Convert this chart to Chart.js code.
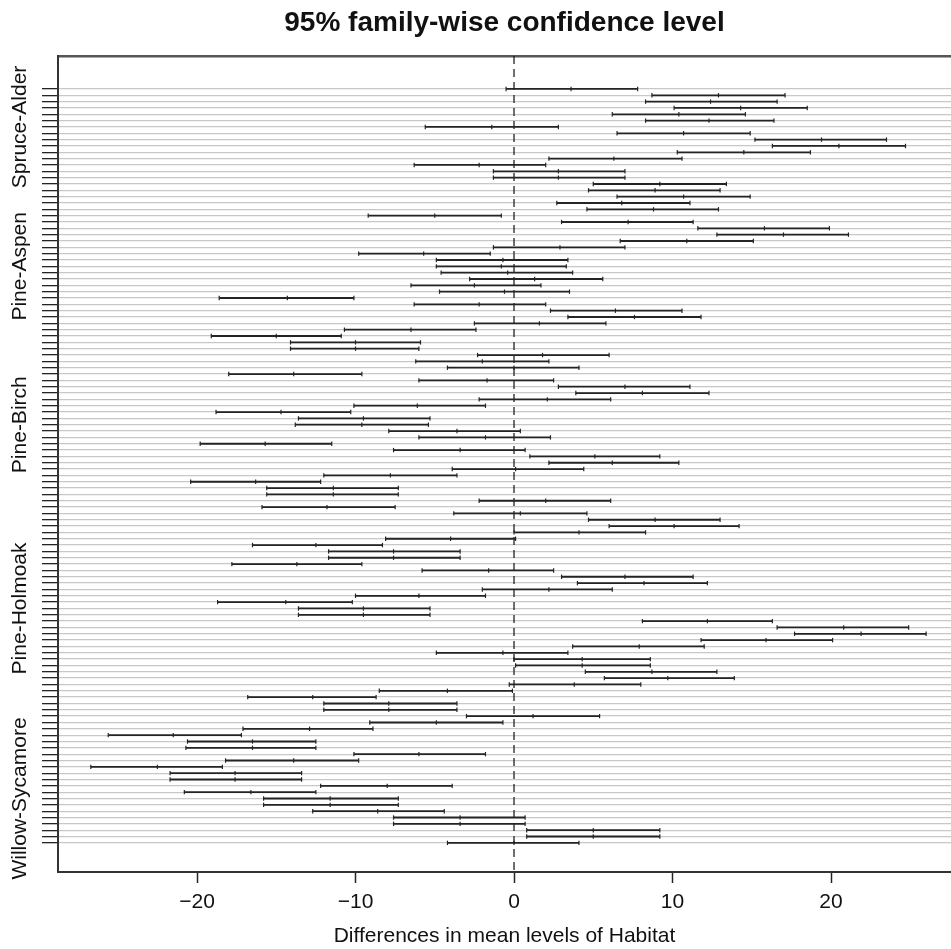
<!DOCTYPE html>
<html>
<head>
<meta charset="utf-8">
<script src="https://cdn.jsdelivr.net/npm/chart.js@4/dist/chart.umd.min.js"></script>
<style>
  html, body { margin: 0; padding: 0; background: #fff; overflow: hidden; }
</style>
</head>
<body>
<canvas id="tukey" width="951" height="949"></canvas>
<script>
// Tukey HSD intervals, one entry per comparison, top row first
const lwr = [
  -0.5, 8.7, 8.3, 10.1, 6.2, 8.3, -5.6, 6.5, 15.2, 16.3,
  10.3, 2.2, -6.3, -1.3, -1.3, 5.0, 4.7, 6.5, 2.7, 4.6,
  -9.2, 3.0, 11.6, 12.8, 6.7, -1.3, -9.8, -4.9, -4.9, -4.6,
  -2.8, -6.5, -4.7, -18.6, -6.3, 2.3, 3.4, -2.5, -10.7, -19.1,
  -14.1, -14.1, -2.3, -6.2, -4.2, -18.0, -6.0, 2.8, 3.9, -2.2,
  -10.1, -18.8, -13.6, -13.8, -7.9, -6.0, -19.8, -7.6, 1.0, 2.2,
  -3.9, -12.0, -20.4, -15.6, -15.6, -2.2, -15.9, -3.8, 4.7, 6.0,
  0.0, -8.1, -16.5, -11.7, -11.7, -17.8, -5.8, 3.0, 4.0, -2.0,
  -10.0, -18.7, -13.6, -13.6, 8.1, 16.6, 17.7, 11.8, 3.7, -4.9,
  0.0, 0.1, 4.5, 5.7, -0.3, -8.5, -16.8, -12.0, -12.0, -3.0,
  -9.1, -17.1, -25.6, -20.6, -20.7, -10.1, -18.2, -26.7, -21.7, -21.7,
  -12.2, -20.8, -15.8, -15.8, -12.7, -7.6, -7.6, 0.8, 0.8, -4.2
];
const diff = [
  3.6, 12.9, 12.4, 14.3, 10.4, 12.3, -1.4, 10.7, 19.4, 20.5,
  14.5, 6.3, -2.2, 2.8, 2.8, 9.2, 8.9, 10.7, 6.8, 8.8,
  -5.0, 7.2, 15.8, 17.0, 10.9, 2.9, -5.7, -0.7, -0.8, -0.4,
  1.3, -2.5, -0.6, -14.3, -2.2, 6.4, 7.6, 1.6, -6.5, -15.0,
  -10.0, -10.0, 1.8, -2.0, 0.0, -13.9, -1.7, 7.0, 8.1, 2.1,
  -6.1, -14.7, -9.5, -9.6, -3.6, -1.8, -15.7, -3.4, 5.1, 6.2,
  0.1, -7.8, -16.3, -11.4, -11.4, 2.0, -11.8, 0.4, 8.9, 10.1,
  4.1, -4.0, -12.5, -7.6, -7.6, -13.7, -1.6, 7.0, 8.2, 2.2,
  -6.0, -14.4, -9.5, -9.5, 12.2, 20.8, 21.9, 15.9, 7.9, -0.7,
  4.3, 4.3, 8.7, 9.7, 3.8, -4.2, -12.7, -7.9, -7.9, 1.2,
  -4.9, -12.9, -21.5, -16.5, -16.5, -6.0, -13.9, -22.5, -17.6, -17.6,
  -8.0, -16.6, -11.6, -11.6, -8.6, -3.4, -3.4, 5.0, 5.0, 0.0
];
const upr = [
  7.8, 17.1, 16.6, 18.5, 14.6, 16.4, 2.8, 14.9, 23.5, 24.7,
  18.7, 10.6, 2.0, 7.0, 7.0, 13.4, 13.0, 14.9, 11.1, 12.9,
  -0.8, 11.3, 19.9, 21.1, 15.1, 7.0, -1.5, 3.4, 3.3, 3.7,
  5.6, 1.7, 3.5, -10.1, 2.0, 10.6, 11.8, 5.8, -2.4, -10.9,
  -5.9, -6.0, 6.0, 2.2, 4.1, -9.6, 2.5, 11.1, 12.3, 6.1,
  -1.8, -10.3, -5.3, -5.4, 0.4, 2.3, -11.5, 0.7, 9.2, 10.4,
  4.4, -3.6, -12.2, -7.3, -7.3, 6.1, -7.5, 4.6, 13.0, 14.2,
  8.3, 0.1, -8.3, -3.4, -3.4, -9.6, 2.5, 11.3, 12.2, 6.2,
  -1.8, -10.2, -5.3, -5.3, 16.3, 24.9, 26.0, 20.1, 12.0, 3.4,
  8.6, 8.6, 12.8, 13.9, 8.0, -0.1, -8.7, -3.6, -3.6, 5.4,
  -0.7, -8.9, -17.2, -12.5, -12.5, -1.8, -9.8, -18.4, -13.4, -13.4,
  -3.9, -12.5, -7.3, -7.3, -4.4, 0.7, 0.7, 9.2, 9.2, 4.1
];

// tick labels: x axis, and the comparison names that fit on the y axis
const xTicks = [-20, -10, 0, 10, 20];
const labelRows = [6, 28, 53, 82, 112];
const labelNames = ['Spruce-Alder', 'Pine-Aspen', 'Pine-Birch', 'Pine-Holmoak', 'Willow-Sycamore'];

const rows = lwr.map((_, i) => i);
const FONT = '"Liberation Sans", Arial, sans-serif';
const INK = '#242424';

// one polyline with gaps: lwr -> upr per row
const segments = [];
rows.forEach(i => {
  segments.push({ x: lwr[i], y: i }, { x: upr[i], y: i }, { x: null, y: null });
});
// small vertical ticks at lwr, diff and upr
const marks = [];
rows.forEach(i => {
  marks.push({ x: lwr[i], y: i }, { x: diff[i], y: i }, { x: upr[i], y: i });
});

const extras = {
  id: 'extras',
  beforeDatasetsDraw(chart) {
    const { ctx, chartArea: a, scales: { x } } = chart;
    const px = x.getPixelForValue(0);
    ctx.save();
    ctx.strokeStyle = '#111';
    ctx.lineWidth = 1.2;
    ctx.setLineDash([8, 5]);
    ctx.beginPath();
    ctx.moveTo(px, a.top);
    ctx.lineTo(px, a.bottom);
    ctx.stroke();
    ctx.restore();
  },
  afterDraw(chart) {
    const { ctx, chartArea: a, scales: { y } } = chart;
    ctx.save();
    ctx.font = '21px ' + FONT;
    ctx.fillStyle = '#111';
    ctx.textAlign = 'center';
    ctx.textBaseline = 'middle';
    labelRows.forEach((r, k) => {
      ctx.save();
      ctx.translate(a.left - 38, y.getPixelForValue(r));
      ctx.rotate(-Math.PI / 2);
      ctx.fillText(labelNames[k], 0, 0);
      ctx.restore();
    });
    ctx.restore();
  }
};

new Chart(document.getElementById('tukey'), {
  type: 'scatter',
  data: {
    datasets: [
      {
        label: 'interval',
        data: segments,
        showLine: true,
        borderColor: INK,
        borderWidth: 1.8,
        pointRadius: 0,
        spanGaps: false,
      },
      {
        label: 'marks',
        data: marks,
        pointStyle: 'line',
        pointRotation: 90,
        pointRadius: 2.2,
        pointBorderWidth: 1.2,
        pointBorderColor: INK,
        pointBackgroundColor: INK,
      },
    ],
  },
  options: {
    responsive: false,
    devicePixelRatio: 1,
    animation: false,
    events: [],
    layout: { padding: 0, autoPadding: false },
    plugins: {
      legend: { display: false },
      tooltip: { enabled: false },
      title: {
        display: true,
        fullSize: false,
        text: '95% family-wise confidence level',
        color: '#111',
        font: { family: FONT, size: 28, weight: 'bold' },
        padding: { top: 6, bottom: 16.4 },
      },
    },
    scales: {
      x: {
        type: 'linear',
        position: 'bottom',
        min: -28.77,
        max: 27.57,
        afterBuildTicks: s => { s.ticks = xTicks.map(v => ({ value: v })); },
        afterFit: s => { s.height = 77; },
        grid: { drawOnChartArea: false, tickLength: 11, tickColor: INK, tickWidth: 1.5 },
        border: { display: true, color: '#333', width: 2 },
        ticks: {
          color: '#111',
          padding: 7,
          maxRotation: 0,
          font: { family: FONT, size: 21 },
          callback: v => (v < 0 ? '\u2212' + Math.abs(v) : String(v)),
        },
        title: {
          display: true,
          text: 'Differences in mean levels of Habitat',
          color: '#111',
          font: { family: FONT, size: 21 },
          padding: { top: 0, bottom: 0 },
        },
      },
      x2: {
        type: 'linear',
        position: 'top',
        afterFit: s => { s.height = 0; },
        grid: { display: false, drawTicks: false },
        ticks: { display: false },
        border: { display: true, color: '#555', width: 2.5 },
      },
      y: {
        type: 'linear',
        reverse: true,
        min: -5.2,
        max: 123.6,
        afterBuildTicks: s => { s.ticks = rows.map(v => ({ value: v })); },
        afterFit: s => { s.width = 58; },
        grid: { color: '#c8c8c8', lineWidth: 1.3, tickLength: 16, tickColor: INK, tickWidth: 1.3 },
        border: { display: true, color: '#333', width: 2 },
        ticks: { display: false },
      },
    },
  },
  plugins: [extras],
});
</script>
</body>
</html>
